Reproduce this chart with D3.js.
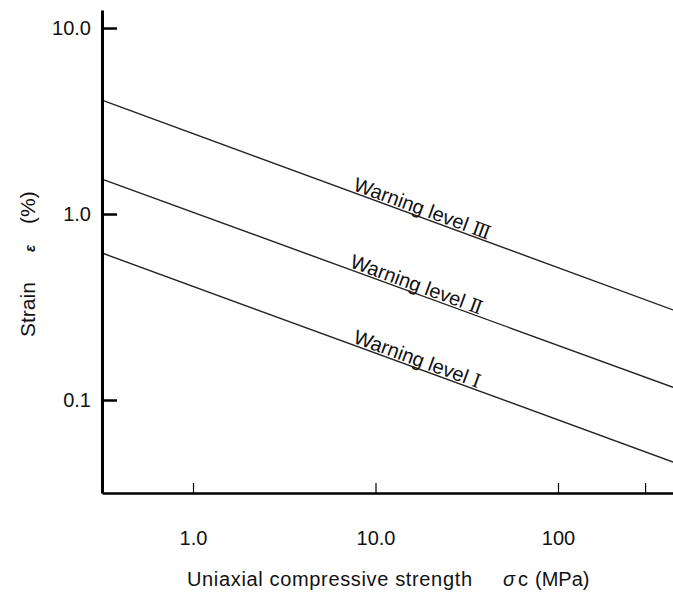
<!DOCTYPE html>
<html>
<head>
<meta charset="utf-8">
<script src="https://cdn.jsdelivr.net/npm/d3@7"></script>
<style>
  body { margin: 0; background: #fff; }
  svg { display: block; font-family: "Liberation Sans", Arial, sans-serif; }
</style>
</head>
<body>
<svg id="chart" width="673" height="594"></svg>
<script>
// warning levels, strain (%) read at the two ends of the plot
var levelNames = ['Warning level ', 'Warning level ', 'Warning level '];
var levelNumerals = ['\u2162', '\u2161', '\u2160'];
var sigmaEnds = [0.317, 427];
var strainIII = [4.10, 0.305];
var strainII = [1.54, 0.117];
var strainI = [0.617, 0.0464];
var labelSigma = [7.4, 7.1, 7.4];

var xTicks = [1, 10, 100, 300];
var xTickLabels = ['1.0', '10.0', '100', ''];
var yTicks = [0.1, 1, 10];
var yTickLabels = ['0.1', '1.0', '10.0'];

var svg = d3.select('#chart');

var x = d3.scaleLog().domain([0.3172, 426.7]).range([102, 673]);
var y = d3.scaleLog().domain([0.03162, 12.5]).range([493, 10]);

var series = [strainIII, strainII, strainI];

// the three lines
var line = d3.line()
  .x(function(d) { return x(d[0]); })
  .y(function(d) { return y(d[1]); });

series.forEach(function(s, i) {
  var pts = sigmaEnds.map(function(sg, j) { return [sg, s[j]]; });
  svg.append('path')
    .datum(pts)
    .attr('d', line)
    .attr('fill', 'none')
    .attr('stroke', '#222')
    .attr('stroke-width', 1.4);

  // label parallel to the line
  var x1 = x(sigmaEnds[0]), y1 = y(s[0]), x2 = x(sigmaEnds[1]), y2 = y(s[1]);
  var ang = Math.atan2(y2 - y1, x2 - x1) * 180 / Math.PI;
  var lx = x(labelSigma[i]);
  var ly = y1 + (lx - x1) * (y2 - y1) / (x2 - x1);
  var t = svg.append('text')
    .attr('transform', 'translate(' + lx + ',' + ly + ') rotate(' + ang + ')')
    .attr('y', -2)
    .attr('font-size', 20)
    .attr('fill', '#111')
    .attr('xml:space', 'preserve');
  t.append('tspan').text(levelNames[i]);
  t.append('tspan').attr('font-family', '"DejaVu Serif", serif').attr('font-size', 19).text(levelNumerals[i]);
});

// axes
var yAxis = d3.axisLeft(y)
  .tickValues(yTicks)
  .tickFormat(function(d, i) { return yTickLabels[i]; })
  .tickSizeInner(-15)
  .tickSizeOuter(0)
  .tickPadding(11);

var gy = svg.append('g')
  .attr('transform', 'translate(102,0)')
  .call(yAxis);
gy.select('.domain').attr('stroke', '#000').attr('stroke-width', 3);
gy.selectAll('.tick line').attr('stroke', '#000').attr('stroke-width', 2.5);
gy.selectAll('.tick text').attr('font-size', 20).attr('font-family', null).attr('fill', '#111');

var xAxis = d3.axisBottom(x)
  .tickValues(xTicks)
  .tickFormat(function(d, i) { return xTickLabels[i]; })
  .tickSizeInner(-10)
  .tickSizeOuter(0)
  .tickPadding(38);

var gx = svg.append('g')
  .attr('transform', 'translate(0,493)')
  .call(xAxis);
gx.select('.domain').attr('stroke', '#000').attr('stroke-width', 2.5);
gx.selectAll('.tick line').attr('stroke', '#000').attr('stroke-width', 1.2);
gx.selectAll('.tick text').attr('font-size', 20).attr('font-family', null).attr('fill', '#111');

// axis titles
var xt = svg.append('text')
  .attr('y', 586)
  .attr('font-size', 20)
  .attr('fill', '#111');
xt.append('tspan').attr('x', 187).attr('textLength', 285).text('Uniaxial compressive strength');
xt.append('tspan').attr('x', 503).attr('font-style', 'italic').text('\u03c3');
xt.append('tspan').attr('x', 518).text('c');
xt.append('tspan').attr('x', 535).text('(MPa)');

var yt = svg.append('text')
  .attr('transform', 'translate(35,0) rotate(-90)')
  .attr('font-size', 21)
  .attr('fill', '#111');
yt.append('tspan').attr('x', -337).text('Strain');
yt.append('tspan').attr('x', -252).attr('font-style', 'italic').attr('font-weight', 'bold').attr('font-size', 15).text('\u03b5');
yt.append('tspan').attr('x', -224).text('(%)');
</script>
</body>
</html>
